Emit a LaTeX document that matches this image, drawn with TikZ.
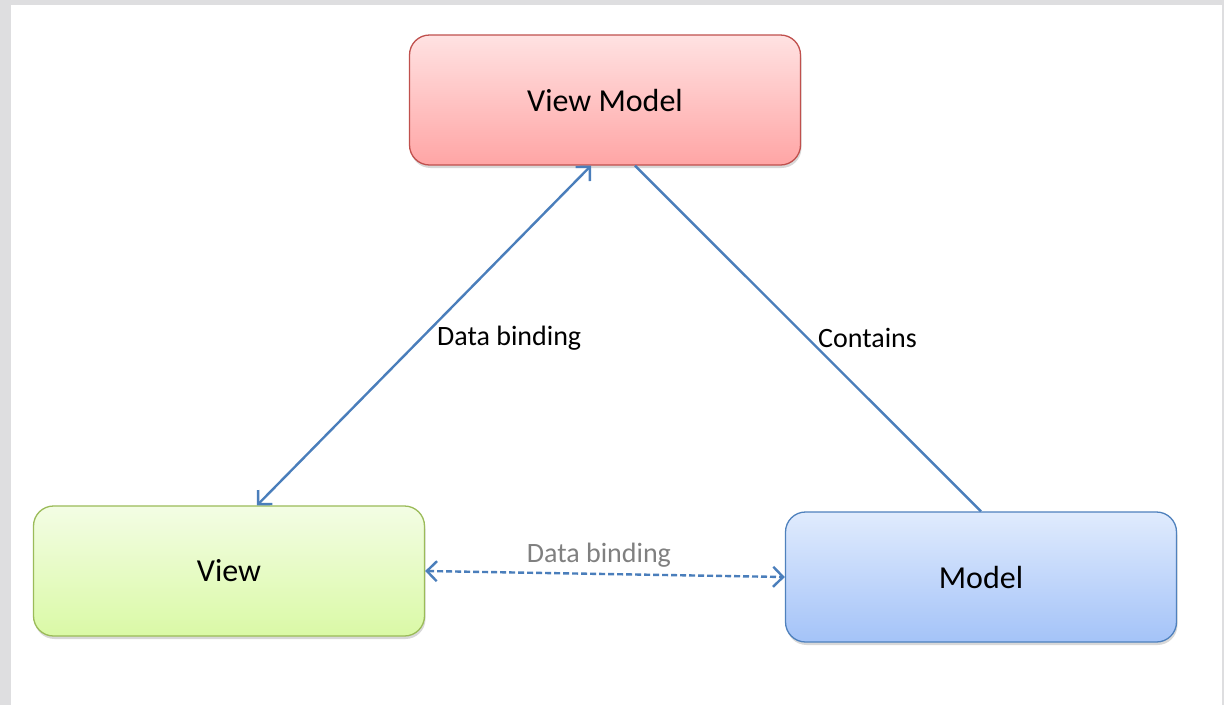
\documentclass[tikz,border=0pt]{standalone}
\usepackage{fontspec}
\setmainfont{Carlito}
\usetikzlibrary{shadows,arrows.meta}

\definecolor{linkblue}{HTML}{4A7EBB}
\definecolor{pagegray}{HTML}{DEDEE0}
\definecolor{vmline}{HTML}{C0504D}
\definecolor{vmtop}{HTML}{FFE2E2}
\definecolor{vmbot}{HTML}{FFA5A5}
\definecolor{viewline}{HTML}{9BBB59}
\definecolor{viewtop}{HTML}{F3FDE4}
\definecolor{viewbot}{HTML}{DAF9A6}
\definecolor{modelline}{HTML}{4F81BD}
\definecolor{modeltop}{HTML}{E0EBFD}
\definecolor{modelbot}{HTML}{A4C3F8}
\definecolor{lowtext}{HTML}{808080}

\begin{document}
\begin{tikzpicture}[x=1pt,y=-1pt,
    link/.style={draw=linkblue,line width=2.4pt},
    tip/.style={{Straight Barb[length=10pt,width=20pt,line width=2.4pt]}-{Straight Barb[length=10pt,width=20pt,line width=2.4pt]}},
    lbl/.style={font=\fontsize{28}{34}\selectfont,inner sep=0pt}]

    % the page
    \fill[pagegray] (0,0) rectangle (1224,705);
    \fill[white] (11,5) rectangle (1222,705);

    % the boxes
    \tikzstyle{box}=[rectangle,rounded corners=20pt,minimum width=391pt,
      minimum height=130pt,line width=1.3pt,inner sep=0pt,
      drop shadow={shadow xshift=1pt,shadow yshift=-3pt,opacity=0.3},
      font=\fontsize{32}{38}\selectfont]

    \node[box,draw=vmline,top color=vmtop,bottom color=vmbot] (vm) at (605,100) {View Model};
    \node[box,draw=viewline,top color=viewtop,bottom color=viewbot] (view) at (229,571) {View};
    \node[box,draw=modelline,top color=modeltop,bottom color=modelbot] (model) at (981,577) {Model};

    % the links
    \draw[link,tip] ([xshift=28pt]view.north) -- ([xshift=-14pt]vm.south);
    \draw[link] ([xshift=30pt]vm.south) -- (model.north);
    \draw[link,tip,dash pattern=on 6pt off 3pt] (view.east) -- (model.west);

    % the texts
    \node[lbl,anchor=west] (bind) at (437,338) {Data binding};
    \node[lbl,anchor=west] (contains) at (818,338) {Contains};
    \node[lbl,text=lowtext] (bindlow) at (599,555) {Data binding};

\end{tikzpicture}
\end{document}
